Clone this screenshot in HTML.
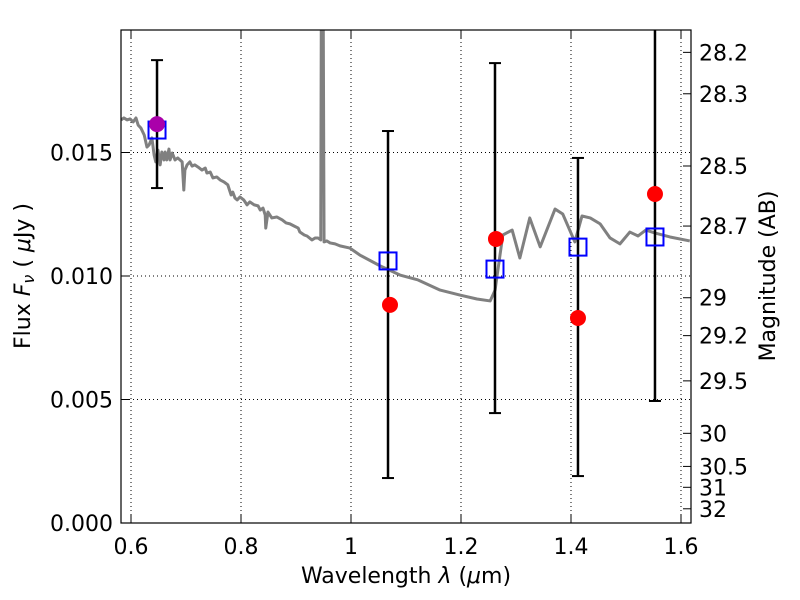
<!DOCTYPE html>
<html><head><meta charset="utf-8"><style>
body{margin:0;background:#fff}
svg{display:block;font-family:"DejaVu Sans","Liberation Sans",sans-serif}
</style></head><body>
<svg id="chart" width="800" height="600" viewBox="0 0 800 600" xmlns="http://www.w3.org/2000/svg">
<defs><clipPath id="pc"><rect x="121" y="30" width="570" height="493"/></clipPath></defs>
<g id="grid"></g>
<g id="plot" clip-path="url(#pc)"></g>
<rect x="121" y="30" width="570" height="493" fill="none" stroke="#000" stroke-width="1.2"/>
<g id="axes"></g>
<text x="406" y="583" font-size="22" text-anchor="middle">Wavelength  <tspan font-style="italic">λ</tspan> (<tspan font-style="italic">μ</tspan>m)</text>
<text transform="translate(30,276) rotate(-90)" font-size="22" text-anchor="middle">Flux  <tspan font-style="italic">F<tspan font-size="16" dy="4">ν</tspan></tspan><tspan dy="-4">  ( </tspan><tspan font-style="italic">μ</tspan>Jy )</text>
<text transform="translate(775,276) rotate(-90)" font-size="22" text-anchor="middle">Magnitude (AB)</text>
</svg>
<script>
const specWl=[0.582,0.587,0.593,0.598,0.604,0.609,0.613,0.618,0.624,0.629,0.633,0.638,0.642,0.645,0.649,0.653,0.656,0.660,0.662,0.665,0.669,0.671,0.675,0.680,0.685,0.689,0.693,0.696,0.698,0.702,0.707,0.711,0.716,0.722,0.729,0.735,0.738,0.744,0.749,0.756,0.762,0.769,0.776,0.782,0.785,0.789,0.793,0.798,0.805,0.811,0.816,0.824,0.831,0.835,0.840,0.844,0.845,0.849,0.856,0.865,0.875,0.882,0.889,0.896,0.904,0.907,0.915,0.920,0.929,0.935,0.940,0.945,0.947,0.948,0.951,0.956,0.962,0.971,0.980,0.998,1.016,1.053,1.089,1.122,1.162,1.198,1.229,1.253,1.262,1.276,1.293,1.307,1.325,1.344,1.371,1.385,1.407,1.420,1.435,1.453,1.471,1.489,1.507,1.522,1.536,1.553,1.580,1.616];
const specFlux=[0.01632,0.01640,0.01632,0.01636,0.01624,0.01640,0.01611,0.01599,0.01571,0.01522,0.01531,0.01559,0.01490,0.01462,0.01510,0.01450,0.01502,0.01470,0.01502,0.01470,0.01514,0.01470,0.01498,0.01470,0.01478,0.01470,0.01462,0.01348,0.01429,0.01450,0.01462,0.01445,0.01450,0.01441,0.01429,0.01437,0.01417,0.01421,0.01397,0.01401,0.01389,0.01381,0.01369,0.01328,0.01340,0.01316,0.01308,0.01320,0.01308,0.01288,0.01300,0.01288,0.01284,0.01267,0.01275,0.01247,0.01194,0.01259,0.01235,0.01239,0.01227,0.01215,0.01211,0.01203,0.01194,0.01178,0.01166,0.01162,0.01146,0.01154,0.01154,0.01146,0.03,0.03,0.01138,0.01142,0.01134,0.01130,0.01122,0.01113,0.01085,0.01041,0.01004,0.00984,0.00943,0.00923,0.00907,0.00899,0.00943,0.01166,0.01186,0.01073,0.01235,0.01118,0.01271,0.01251,0.01138,0.01243,0.01235,0.01211,0.01154,0.01130,0.01178,0.01162,0.01186,0.01174,0.01158,0.01142];
const bandWl=[0.6473,1.0673,1.2618,1.4127,1.5527];
const modelFlux=[0.01591,0.01061,0.01028,0.01117,0.01158];
const obsWl=[1.0709,1.2636,1.4127,1.5527];
const obsFlux=[0.00883,0.0115,0.0083,0.01332];
const errLow=[0.01356,0.00182,0.00445,0.0019,0.00494];
const errHigh=[0.01874,0.01587,0.01862,0.01478,0.026];
const purpleWl=[0.6473];
const purpleFlux=[0.01615];
const xTicks=[0.6,0.8,1.0,1.2,1.4,1.6];
const xTickLabels=["0.6","0.8","1","1.2","1.4","1.6"];
const yTicks=[0,0.005,0.010,0.015];
const yTickLabels=["0.000","0.005","0.010","0.015"];
const magTicks=[28.2,28.3,28.5,28.7,29,29.2,29.5,30,30.5,31,32];
const magTickLabels=["28.2","28.3","28.5","28.7","29","29.2","29.5","30","30.5","31","32"];

const NS="http://www.w3.org/2000/svg";
const X0=121,X1=691,Y0=30,Y1=523,XMIN=0.5818,XMAX=1.6182,YMIN=0,YMAX=0.01996;
const sx=v=>X0+(v-XMIN)/(XMAX-XMIN)*(X1-X0);
const sy=v=>Y1-(v-YMIN)/(YMAX-YMIN)*(Y1-Y0);
const magToFlux=m=>Math.pow(10,(23.9-m)/2.5);
function mk(tag,attrs,parent){const e=document.createElementNS(NS,tag);for(const k in attrs)e.setAttribute(k,attrs[k]);parent.appendChild(e);return e;}
const grid=document.getElementById('grid'),plot=document.getElementById('plot'),axes=document.getElementById('axes');

xTicks.forEach((t,i)=>{
  const x=sx(t);
  const g=mk('line',{x1:x,x2:x,y1:Y0,y2:Y1,stroke:'#000','stroke-width':1,'stroke-dasharray':'1,3'},grid);
  
  
  const a=mk('line',{x1:x,x2:x,y1:Y1,y2:Y1-8,stroke:'#000','stroke-width':1},axes);
  
  
  const b=mk('line',{x1:x,x2:x,y1:Y0,y2:Y0+8,stroke:'#000','stroke-width':1},axes);
  
  
  const l=mk('text',{x:x,y:554,'font-size':22,'text-anchor':'middle'},axes);
  l.textContent=xTickLabels[i];
  
  
});
yTicks.forEach((t,i)=>{
  const y=sy(t);
  if(t>0){const g=mk('line',{x1:X0,x2:X1,y1:y,y2:y,stroke:'#000','stroke-width':1,'stroke-dasharray':'1,3'},grid);
  
  }
  const a=mk('line',{x1:X0,x2:X0+8,y1:y,y2:y,stroke:'#000','stroke-width':1},axes);
  
  
  const l=mk('text',{x:113,y:y+8,'font-size':22,'text-anchor':'end'},axes);
  l.textContent=yTickLabels[i];
  
  
});
magTicks.forEach((m,i)=>{
  const y=sy(magToFlux(m));
  const a=mk('line',{x1:X1-8,x2:X1,y1:y,y2:y,stroke:'#000','stroke-width':1},axes);
  
  
  const l=mk('text',{x:699,y:y+8,'font-size':22},axes);
  l.textContent=magTickLabels[i];
  
  
});

const sp=mk('polyline',{points:specWl.map((w,i)=>sx(w)+','+sy(specFlux[i])).join(' '),fill:'none',stroke:'#808080','stroke-width':3,'stroke-linejoin':'round'},plot);



bandWl.forEach((w,i)=>{
  const x=sx(w),yl=sy(errLow[i]),yh=sy(errHigh[i]);
  const e=mk('line',{x1:x,x2:x,y1:yl,y2:yh,stroke:'#000','stroke-width':2.5},plot);
  
  
  [yl,yh].forEach(y=>{const c=mk('line',{x1:x-6,x2:x+6,y1:y,y2:y,stroke:'#000','stroke-width':2},plot);
  
  });
});
bandWl.forEach((w,i)=>{
  const s=mk('rect',{x:sx(w)-8.5,y:sy(modelFlux[i])-8.5,width:17,height:17,fill:'none',stroke:'#0000ff','stroke-width':2},plot);
  
  
});
obsWl.forEach((w,i)=>{
  const c=mk('circle',{cx:sx(w),cy:sy(obsFlux[i]),r:8,fill:'#ff0000'},plot);
  
  
});
purpleWl.forEach((w,i)=>{
  const c=mk('circle',{cx:sx(w),cy:sy(purpleFlux[i]),r:8,fill:'#aa00aa'},plot);
  
  
});
</script>
</body></html>
